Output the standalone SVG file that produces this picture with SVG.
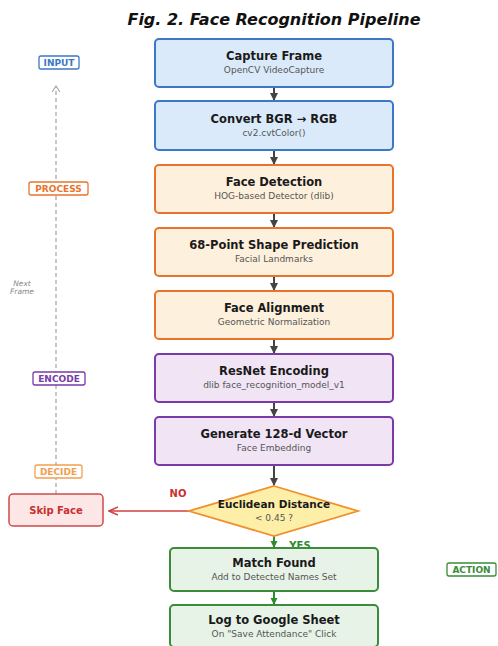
<svg xmlns="http://www.w3.org/2000/svg" width="498" height="646" viewBox="0 0 498 646">
<defs>
<style>
text{font-family:"DejaVu Sans","Liberation Sans",sans-serif;text-anchor:middle}
.t{font-size:11.5px;font-weight:bold;fill:#1a1a1a}
.s{font-size:9px;fill:#555}
.blue{fill:#dbeafa;stroke:#3b78c8;stroke-width:2}
.orange{fill:#fdf0dc;stroke:#e8742c;stroke-width:2}
.purple{fill:#f0e4f5;stroke:#7a3aa8;stroke-width:2}
.green{fill:#e7f3e7;stroke:#3a8c3a;stroke-width:2}
.red{fill:#fde6e6;stroke:#d04a4a;stroke-width:1.5}
.tag{fill:#fff;stroke-width:1.3}
.tagt{font-size:9px;font-weight:bold}
.c{stroke:#444;stroke-width:2;fill:none}
</style>
<marker id="ad" markerWidth="9" markerHeight="9" refX="7" refY="4.5" orient="auto" markerUnits="userSpaceOnUse"><path d="M0,0.5 L8,4.5 L0,8.5 Z" fill="#444"/></marker>
<marker id="ag" markerWidth="8" markerHeight="8" refX="6" refY="4" orient="auto" markerUnits="userSpaceOnUse"><path d="M0,0.5 L7,4 L0,7.5 Z" fill="#2e8b2e"/></marker>
<marker id="ar" markerWidth="10" markerHeight="10" refX="9" refY="5" orient="auto" markerUnits="userSpaceOnUse"><path d="M0,1 L9,5 L0,9" fill="none" stroke="#d04040" stroke-width="1.5"/></marker>
<marker id="agr" markerWidth="10" markerHeight="10" refX="5" refY="5" orient="auto" markerUnits="userSpaceOnUse"><path d="M0,1 L6,5 L0,9" fill="none" stroke="#aaa" stroke-width="1.2"/></marker>
</defs>
<rect width="498" height="646" fill="#fff"/>
<text x="274" y="25" style="font-size:16px;font-weight:bold;font-style:italic;fill:#111">Fig. 2. Face Recognition Pipeline</text>

<g id="connectors">
<line class="c" x1="274" y1="87" x2="274" y2="100" marker-end="url(#ad)"/>
<line class="c" x1="274" y1="150" x2="274" y2="164" marker-end="url(#ad)"/>
<line class="c" x1="274" y1="213" x2="274" y2="227" marker-end="url(#ad)"/>
<line class="c" x1="274" y1="276" x2="274" y2="290" marker-end="url(#ad)"/>
<line class="c" x1="274" y1="339" x2="274" y2="353" marker-end="url(#ad)"/>
<line class="c" x1="274" y1="402" x2="274" y2="416" marker-end="url(#ad)"/>
<line class="c" x1="274" y1="465" x2="274" y2="485" marker-end="url(#ad)"/>
<line x1="274" y1="536" x2="274" y2="547" stroke="#2e8b2e" stroke-width="2" marker-end="url(#ag)"/>
<line x1="274" y1="591" x2="274" y2="604" stroke="#2e8b2e" stroke-width="2" marker-end="url(#ag)"/>
<line x1="189" y1="511" x2="109" y2="511" stroke="#d04040" stroke-width="1.5" marker-end="url(#ar)"/>
<line x1="56" y1="494" x2="56" y2="87" stroke="#aaa" stroke-width="1.3" stroke-dasharray="4,3" marker-end="url(#agr)"/>
<text x="178" y="497" style="font-size:10px;font-weight:bold;fill:#c83030">NO</text>
<text x="300" y="549" style="font-size:10px;font-weight:bold;fill:#2e8b2e">YES</text>
<text x="22" y="286" style="font-size:7.5px;font-style:italic;fill:#888">Next</text>
<text x="22" y="294" style="font-size:7.5px;font-style:italic;fill:#888">Frame</text>
</g>

<g id="tag-input"><rect class="tag" x="39" y="56" width="40" height="13" rx="2" stroke="#3b78c8"/><text class="tagt" x="59" y="65.5" fill="#3b78c8">INPUT</text></g>
<g id="tag-process"><rect class="tag" x="29" y="182" width="59" height="13" rx="2" stroke="#e8742c"/><text class="tagt" x="58.5" y="191.5" fill="#e8742c">PROCESS</text></g>
<g id="tag-encode"><rect class="tag" x="33" y="372" width="52" height="13" rx="2" stroke="#7a3aa8"/><text class="tagt" x="59" y="381.5" fill="#7a3aa8">ENCODE</text></g>
<g id="tag-decide"><rect class="tag" x="35" y="465" width="47" height="13" rx="2" stroke="#f0a050"/><text class="tagt" x="58.5" y="474.5" fill="#f0a050">DECIDE</text></g>
<g id="tag-action"><rect class="tag" x="447" y="563" width="49" height="13" rx="2" stroke="#3a8c3a"/><text class="tagt" x="471.5" y="572.5" fill="#3a8c3a">ACTION</text></g>

<g id="n1"><rect class="blue" x="155" y="39" width="238" height="48" rx="4"/><text class="t" x="274" y="60">Capture Frame</text><text class="s" x="274" y="73">OpenCV VideoCapture</text></g>
<g id="n2"><rect class="blue" x="155" y="101" width="238" height="49" rx="4"/><text class="t" x="274" y="123">Convert BGR → RGB</text><text class="s" x="274" y="136">cv2.cvtColor()</text></g>
<g id="n3"><rect class="orange" x="155" y="165" width="238" height="48" rx="4"/><text class="t" x="274" y="186">Face Detection</text><text class="s" x="274" y="199">HOG-based Detector (dlib)</text></g>
<g id="n4"><rect class="orange" x="155" y="228" width="238" height="48" rx="4"/><text class="t" x="274" y="249">68-Point Shape Prediction</text><text class="s" x="274" y="262">Facial Landmarks</text></g>
<g id="n5"><rect class="orange" x="155" y="291" width="238" height="48" rx="4"/><text class="t" x="274" y="312">Face Alignment</text><text class="s" x="274" y="325">Geometric Normalization</text></g>
<g id="n6"><rect class="purple" x="155" y="354" width="238" height="48" rx="4"/><text class="t" x="274" y="375">ResNet Encoding</text><text class="s" x="274" y="388">dlib face_recognition_model_v1</text></g>
<g id="n7"><rect class="purple" x="155" y="417" width="238" height="48" rx="4"/><text class="t" x="274" y="438">Generate 128-d Vector</text><text class="s" x="274" y="451">Face Embedding</text></g>
<g id="decision"><polygon points="274,486 358,511 274,536 189,511" fill="#fdefa8" stroke="#f0902c" stroke-width="1.8"/><text x="274" y="508" style="font-size:10.5px;font-weight:bold;fill:#1a1a1a">Euclidean Distance</text><text class="s" x="274" y="521">&lt; 0.45 ?</text></g>
<g id="skip"><rect class="red" x="9" y="494" width="94" height="32" rx="4"/><text x="56" y="514" style="font-size:10px;font-weight:bold;fill:#c83030">Skip Face</text></g>
<g id="n8"><rect class="green" x="170" y="548" width="208" height="43" rx="4"/><text class="t" x="274" y="567">Match Found</text><text class="s" x="274" y="580">Add to Detected Names Set</text></g>
<g id="n9"><rect class="green" x="170" y="605" width="208" height="42" rx="4"/><text class="t" x="274" y="624">Log to Google Sheet</text><text class="s" x="274" y="637">On "Save Attendance" Click</text></g>
</svg>
